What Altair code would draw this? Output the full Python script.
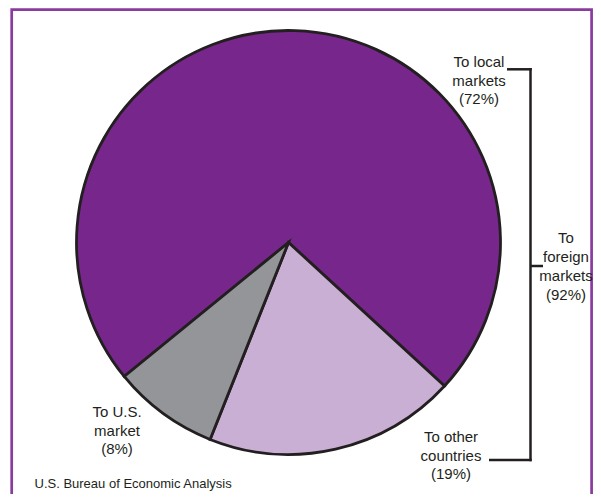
import math
import altair as alt
import pandas as pd

# ---- data ----
categories = ["To local markets", "To other countries", "To U.S. market"]
shares = [72, 19, 8]
fill_colors = ["#77278B", "#C8AFD3", "#939598"]
label_lines = [
    ["To local", "markets", "(72%)"],
    ["To other", "countries", "(19%)"],
    ["To U.S.", "market", "(8%)"],
]
group_lines = ["To", "foreign", "markets", "(92%)"]
source_text = "U.S. Bureau of Economic Analysis"

# ---- layout (chart pixel coordinates; page margin is 8px) ----
W, H = 585, 486
FONT = "Liberation Sans"
INK = "#231F20"
FRAME = "#8A3B9E"
cx, cy, R = 280.5, 234.5, 212
start_angle = math.radians(230.8)
label_pos = [(471, 54), (443, 429), (109, 404)]
group_pos = (558, 229.5)

pie_df = pd.DataFrame({"category": categories, "share": shares, "order": list(range(len(categories)))})

pie = alt.Chart(pie_df).mark_arc(
    outerRadius=R, stroke=INK, strokeWidth=2.8
).encode(
    theta=alt.Theta(
        "share:Q",
        stack=True,
        scale=alt.Scale(domain=[0, sum(shares)], range=[start_angle, start_angle + 2 * math.pi], nice=False),
    ),
    color=alt.Color("category:N", scale=alt.Scale(domain=categories, range=fill_colors), legend=None),
    order=alt.Order("order:Q"),
    x=alt.value(cx),
    y=alt.value(cy),
)

dummy = pd.DataFrame({"d": [0]})

frame = alt.Chart(dummy).mark_rect(
    filled=False, stroke=FRAME, strokeWidth=2.7
).encode(
    x=alt.value(3.7), x2=alt.value(W - 1.4), y=alt.value(1.7), y2=alt.value(H + 20)
)

labels = []
for lines, (lx, ly) in zip(label_lines, label_pos):
    labels.append(
        alt.Chart(pd.DataFrame({"t": [lines]})).mark_text(
            font=FONT, fontSize=15, color=INK, align="center", baseline="middle", lineHeight=18.5
        ).encode(text="t", x=alt.value(lx), y=alt.value(ly))
    )

group_label = alt.Chart(pd.DataFrame({"t": [group_lines]})).mark_text(
    font=FONT, fontSize=15, color=INK, align="center", baseline="middle", lineHeight=19
).encode(text="t", x=alt.value(group_pos[0]), y=alt.value(group_pos[1]))

source = alt.Chart(pd.DataFrame({"t": [source_text]})).mark_text(
    font=FONT, fontSize=13, color=INK, align="left", baseline="middle"
).encode(text="t", x=alt.value(26.5), y=alt.value(476))

# bracket
bx = 522.5
seg_specs = [
    dict(x=alt.value(499), x2=alt.value(bx + 1.2), y=alt.value(61.3)),
    dict(x=alt.value(bx), y=alt.value(60.1), y2=alt.value(453.2)),
    dict(x=alt.value(481), x2=alt.value(bx + 1.2), y=alt.value(452)),
    dict(x=alt.value(bx), x2=alt.value(535), y=alt.value(258)),
]
brackets = [
    alt.Chart(dummy).mark_rule(color=INK, strokeWidth=2.5).encode(**s) for s in seg_specs
]

chart = alt.layer(frame, pie, *brackets, *labels, group_label, source).properties(
    width=W, height=H, autosize=alt.AutoSizeParams(type="none"), padding=0, background="white"
).configure_view(stroke=None)

chart.save("out.html", embed_options={"renderer": "svg", "actions": False})
